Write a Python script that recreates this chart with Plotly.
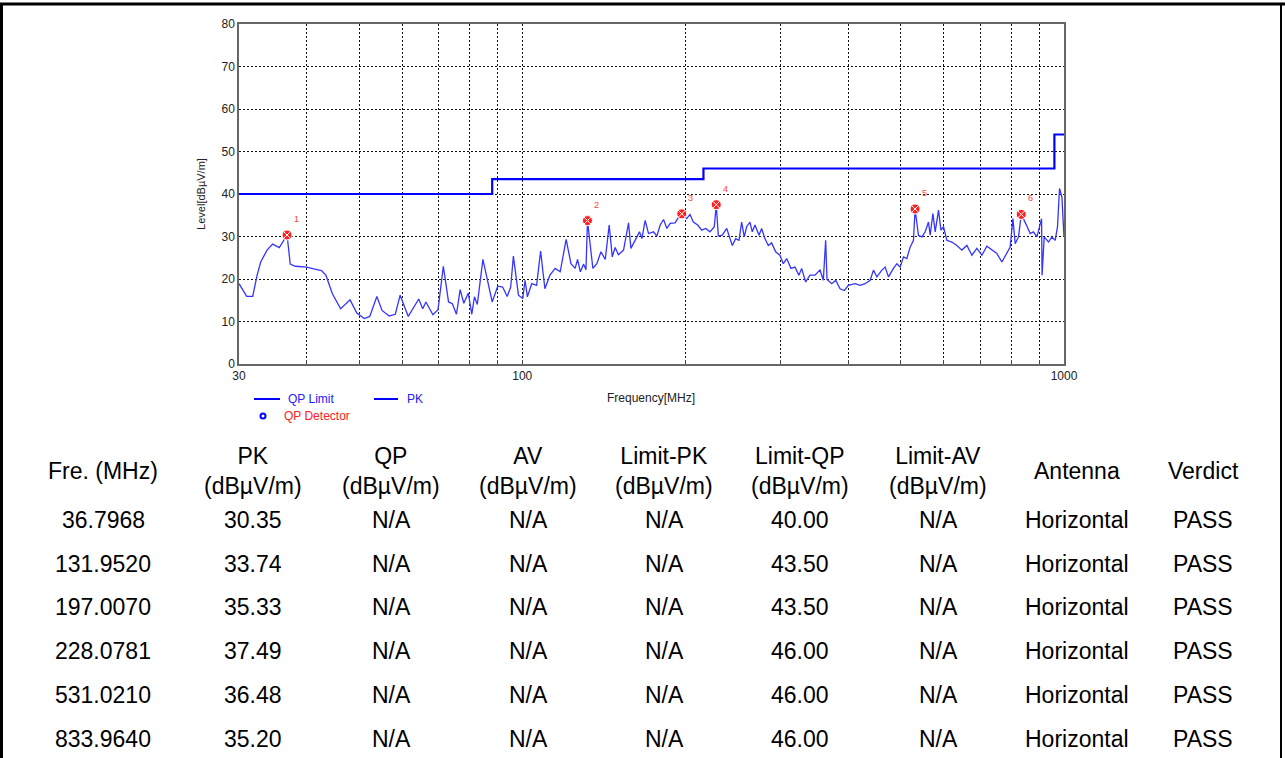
import math
import plotly.graph_objects as go

# ---------------- data ----------------
pk_freq = [30.0, 31.0, 31.8, 32.4, 32.9, 33.8, 34.6, 35.6, 36.8, 37.3, 38.1, 40.0, 41.4, 42.6, 43.4,
           44.6, 46.2, 48.1, 49.5, 51.1, 52.3, 53.9, 55.1, 56.8, 58.3, 59.5, 61.6, 64.4, 65.5, 66.4,
           68.4, 69.9, 71.5, 73.1, 74.3, 75.6, 76.8, 78.0, 79.5, 80.7, 81.6, 82.6, 84.6, 85.8, 88.0,
           90.1, 92.0, 93.8, 95.2, 96.3, 98.4, 100.2, 101.2, 102.2, 104.1, 106.3, 108.1, 110.1, 112.5,
           115.0, 117.5, 120.5, 123.0, 125.2, 126.5, 128.0, 129.8, 131.1, 131.95, 135.0, 137.3, 139.7,
           142.3, 144.7, 146.6, 148.4, 150.5, 153.8, 157.1, 158.7, 161.6, 164.6, 166.3, 168.6, 171.0,
           174.7, 177.2, 179.7, 182.3, 184.9, 187.5, 191.5, 194.2, 197.0, 201.2, 204.0, 206.9, 210.8,
           214.4, 218.1, 222.1, 226.2, 228.08, 230.1, 234.0, 238.5, 241.8, 244.2, 247.7, 251.2, 254.1,
           256.9, 259.5, 263.2, 265.8, 268.9, 273.5, 276.6, 280.5, 284.5, 288.6, 293.6, 298.9, 303.3,
           307.7, 313.3, 318.7, 324.1, 327.9, 333.5, 339.7, 347.0, 354.5, 359.5, 363.1, 365.2, 372.6,
           379.0, 386.0, 393.2, 399.9, 411.6, 420.4, 429.4, 438.7, 444.9, 451.4, 461.1, 467.6, 474.2,
           484.4, 491.4, 498.4, 505.4, 512.7, 520.0, 527.4, 531.02, 538.7, 546.6, 554.3, 562.2, 566.2,
           572.8, 578.4, 586.6, 592.6, 599.2, 607.8, 620.9, 634.2, 647.8, 661.8, 676.0, 690.5, 705.4,
           720.5, 736.0, 751.7, 768.0, 782.1, 795.5, 804.8, 812.6, 824.1, 833.96, 851.6, 866.2, 878.5,
           891.3, 909.0, 911.0, 919.3, 936.4, 949.9, 963.3, 972.8, 981.1, 991.1, 1000.0]
pk_level = [18.9, 15.9, 15.9, 20.9, 24.0, 26.8, 28.2, 27.4, 30.35, 23.5, 23.0, 22.8, 22.3, 22.0, 20.9,
            16.6, 13.0, 15.1, 12.0, 10.7, 11.2, 15.9, 12.6, 11.3, 11.7, 16.2, 11.2, 15.3, 13.0, 14.6,
            11.6, 12.8, 23.0, 14.6, 14.2, 11.7, 17.5, 14.3, 16.7, 11.7, 15.8, 14.0, 24.6, 21.3, 14.6,
            18.3, 18.1, 15.9, 18.1, 25.4, 16.2, 15.4, 19.7, 15.8, 18.9, 18.5, 26.6, 17.7, 20.9,
            22.5, 21.7, 29.3, 23.6, 22.5, 24.6, 21.7, 23.5, 22.2, 33.74, 22.5, 23.6, 26.4,
            24.6, 32.7, 25.2, 27.4, 25.7, 26.8, 33.2, 27.2, 29.1, 31.1, 29.5, 33.8, 30.7,
            31.1, 30.1, 32.7, 34.0, 31.9, 33.1, 33.2, 34.5, 35.33, 34.2, 35.2, 33.4, 32.7,
            31.5, 31.9, 31.1, 32.3, 37.49, 30.1, 30.3, 31.9, 29.5, 27.9, 29.5, 29.1, 33.4,
            29.9, 32.3, 33.4, 31.1, 32.7, 30.3, 31.9, 29.5, 27.9, 28.5, 26.4, 25.6, 23.6,
            24.8, 22.5, 22.8, 20.9, 22.5, 19.3, 20.9, 20.9, 22.1, 19.7, 29.1, 19.9, 18.9,
            19.7, 17.7, 17.3, 18.5, 18.9, 18.5, 18.9, 19.7, 22.1, 20.5, 22.1, 22.8, 20.5,
            22.5, 23.6, 22.8, 25.2, 24.8, 27.5, 29.1, 36.48, 30.3, 29.9, 31.1, 33.4, 30.3,
            35.4, 31.1, 36.2, 31.5, 32.3, 29.1, 28.7, 27.9, 26.8, 27.9, 25.6, 27.2, 25.6,
            27.7, 26.8, 26.0, 24.0, 26.0, 27.5, 34.2, 28.3, 29.9, 35.20, 32.8, 30.7, 31.1,
            29.9, 34.2, 20.9, 29.9, 28.7, 29.9, 29.1, 32.3, 41.3, 39.3, 29.9]

limit_freq = [30, 88, 88, 216, 216, 960, 960, 1000]
limit_level = [40, 40, 43.5, 43.5, 46, 46, 54, 54]

marker_labels = ["1", "2", "3", "4", "5", "6"]
fre_mhz = ["36.7968", "131.9520", "197.0070", "228.0781", "531.0210", "833.9640"]
pk_vals = ["30.35", "33.74", "35.33", "37.49", "36.48", "35.20"]
qp_vals = ["N/A"] * 6
av_vals = ["N/A"] * 6
limit_pk = ["N/A"] * 6
limit_qp = ["40.00", "43.50", "43.50", "46.00", "46.00", "46.00"]
limit_av = ["N/A"] * 6
antenna = ["Horizontal"] * 6
verdict = ["PASS"] * 6

headers = ["Fre. (MHz)", "PK<br>(dBµV/m)", "QP<br>(dBµV/m)", "AV<br>(dBµV/m)", "Limit-PK<br>(dBµV/m)",
           "Limit-QP<br>(dBµV/m)", "Limit-AV<br>(dBµV/m)", "Antenna", "Verdict"]

x_tickvals = [30, 40, 50, 60, 70, 80, 90, 100, 200, 300, 400, 500, 600, 700, 800, 900, 1000]
x_ticktext = ["30", "", "", "", "", "", "", "100", "", "", "", "", "", "", "", "", "1000"]
y_tickvals = [0, 10, 20, 30, 40, 50, 60, 70, 80]

# ---------------- layout geometry ----------------
W, H = 1285, 758
L, R, T, B = 239, 221, 24, 394
PW, PH = W - L - R, H - T - B


def xp(px):
    return (px - L) / PW


def yp(py):
    return (T + PH - py) / PH


FONT = "Liberation Sans, Arial, sans-serif"

fig = go.Figure()

fig.add_trace(go.Scatter(x=limit_freq, y=limit_level, mode="lines",
                         line=dict(color="#0000FF", width=2.2), showlegend=False))
fig.add_trace(go.Scatter(x=pk_freq, y=pk_level, mode="lines",
                         line=dict(color="#3535FF", width=1.3), showlegend=False))

m_freq = [float(v) for v in fre_mhz]
m_lvl = [float(v) for v in pk_vals]
fig.add_trace(go.Scatter(x=m_freq, y=m_lvl, mode="markers",
                         marker=dict(symbol="circle-x", size=10, color="#FF2020",
                                     line=dict(color="white", width=1)),
                         showlegend=False))

annotations = []
for f, v, lab in zip(m_freq, m_lvl, marker_labels):
    annotations.append(dict(x=math.log10(f), y=v, xref="x", yref="y", text=lab,
                            showarrow=False, xshift=9, yshift=16,
                            font=dict(family=FONT, size=9, color="#FF4040")))

# legend (manual)
legend_shapes = [
    dict(type="line", xref="paper", yref="paper", x0=xp(254), x1=xp(280), y0=yp(399), y1=yp(399),
         line=dict(color="#0000FF", width=2)),
    dict(type="line", xref="paper", yref="paper", x0=xp(374), x1=xp(398), y0=yp(399), y1=yp(399),
         line=dict(color="#0000FF", width=2)),
    dict(type="circle", xref="paper", yref="paper", x0=xp(260.5), x1=xp(265.5), y0=yp(418.5), y1=yp(413.5),
         line=dict(color="#0000FF", width=2)),
]
annotations += [
    dict(x=xp(286), y=yp(399), xref="paper", yref="paper", text="QP Limit", showarrow=False,
         xanchor="left", yanchor="middle", font=dict(family=FONT, size=12, color="#2020FF")),
    dict(x=xp(405), y=yp(399), xref="paper", yref="paper", text="PK", showarrow=False,
         xanchor="left", yanchor="middle", font=dict(family=FONT, size=12, color="#2020FF")),
    dict(x=xp(282), y=yp(416), xref="paper", yref="paper", text="QP Detector", showarrow=False,
         xanchor="left", yanchor="middle", font=dict(family=FONT, size=12, color="#FF2020")),
    dict(x=xp(651), y=yp(398), xref="paper", yref="paper", text="Frequency[MHz]", showarrow=False,
         xanchor="center", yanchor="middle", font=dict(family=FONT, size=12, color="#222")),
]

# table
col_x = [103, 253, 391, 528, 664, 800, 938, 1077, 1203]
header_y = 471
row_y = [520, 564, 607, 651, 695, 739]
TFS = 23
for cx, h in zip(col_x, headers):
    annotations.append(dict(x=xp(cx), y=yp(header_y), xref="paper", yref="paper", text=h,
                            showarrow=False, xanchor="center", yanchor="middle",
                            font=dict(family=FONT, size=TFS, color="black")))
columns = [fre_mhz, pk_vals, qp_vals, av_vals, limit_pk, limit_qp, limit_av, antenna, verdict]
for cx, col in zip(col_x, columns):
    for ry, val in zip(row_y, col):
        annotations.append(dict(x=xp(cx), y=yp(ry), xref="paper", yref="paper", text=val,
                                showarrow=False, xanchor="center", yanchor="middle",
                                font=dict(family=FONT, size=TFS, color="black")))

# outer frame
frame_shapes = [
    dict(type="line", xref="paper", yref="paper", x0=xp(0), x1=xp(1285), y0=yp(4), y1=yp(4),
         line=dict(color="black", width=3)),
    dict(type="line", xref="paper", yref="paper", x0=xp(1.5), x1=xp(1.5), y0=yp(3), y1=yp(760),
         line=dict(color="black", width=3)),
    dict(type="line", xref="paper", yref="paper", x0=xp(1281), x1=xp(1281), y0=yp(3), y1=yp(760),
         line=dict(color="black", width=2)),
]

fig.update_layout(
    width=W, height=H,
    margin=dict(l=L, r=R, t=T, b=B, pad=0),
    paper_bgcolor="white", plot_bgcolor="white",
    showlegend=False,
    annotations=annotations,
    shapes=legend_shapes + frame_shapes,
    font=dict(family=FONT, size=12, color="#222"),
)
fig.update_xaxes(type="log", range=[math.log10(30), 3], tickvals=x_tickvals,
                 ticktext=x_ticktext, ticks="inside", ticklen=4, tickcolor="#444",
                 showgrid=True, gridcolor="#111", griddash="2px,2px", gridwidth=1,
                 showline=True, linecolor="#666", linewidth=1.5, mirror=True,
                 tickfont=dict(family=FONT, size=12, color="#222"), zeroline=False)
fig.update_yaxes(range=[0, 80], tickvals=y_tickvals, ticks="",
                 showgrid=True, gridcolor="#111", griddash="2px,2px", gridwidth=1,
                 showline=True, linecolor="#666", linewidth=1.5, mirror=True,
                 tickfont=dict(family=FONT, size=12, color="#222"), zeroline=False,
                 title=dict(text="Level[dBµV/m]", font=dict(family=FONT, size=11, color="#222"), standoff=14))

fig.write_html("out.html", config={"displayModeBar": False},
               post_script="document.body.style.margin='0';document.body.style.padding='0';")
